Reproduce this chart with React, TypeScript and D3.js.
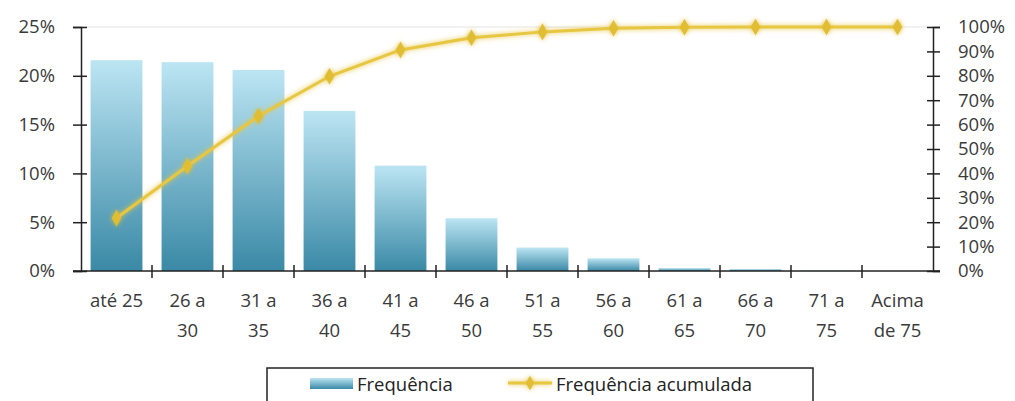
import React, { useEffect, useRef } from 'react';
import * as d3 from 'd3';

const categories = ['até 25', '26 a 30', '31 a 35', '36 a 40', '41 a 45', '46 a 50', '51 a 55', '56 a 60', '61 a 65', '66 a 70', '71 a 75', 'Acima de 75'];
const categoryLines = [['até 25'], ['26 a', '30'], ['31 a', '35'], ['36 a', '40'], ['41 a', '45'], ['46 a', '50'], ['51 a', '55'], ['56 a', '60'], ['61 a', '65'], ['66 a', '70'], ['71 a', '75'], ['Acima', 'de 75']];
const frequencia = [21.6, 21.4, 20.6, 16.4, 10.8, 5.4, 2.4, 1.3, 0.3, 0.2, 0.05, 0];
const acumulada = [21.7, 43.0, 63.5, 79.8, 90.6, 95.6, 98.0, 99.5, 99.9, 100, 100, 100];
const leftTicks = [0, 5, 10, 15, 20, 25];
const rightTicks = [0, 10, 20, 30, 40, 50, 60, 70, 80, 90, 100];

const App: React.FC = () => {
  const svgRef = useRef<SVGSVGElement>(null);

  useEffect(() => {
    if (!svgRef.current) return;
    const svg = d3.select(svgRef.current);
    svg.selectAll('*').remove();

    const width = 1015;
    const height = 401;
    const margin = { top: 27, right: 82, bottom: 130, left: 81 };
    const font = "'Open Sans', 'Noto Sans', sans-serif";
    const fontSize = 18.5;
    const textColor = '#3a3a3a';

    const x = d3.scaleBand()
      .domain(categories)
      .range([margin.left, width - margin.right])
      .paddingInner(0.27)
      .paddingOuter(0.135);

    const yL = d3.scaleLinear().domain([0, 25]).range([height - margin.bottom, margin.top]);
    const yR = d3.scaleLinear().domain([0, 100]).range([height - margin.bottom, margin.top]);

    const defs = svg.append('defs');
    const grad = defs.append('linearGradient')
      .attr('id', 'barGrad').attr('x1', 0).attr('y1', 0).attr('x2', 0).attr('y2', 1);
    grad.append('stop').attr('offset', '0%').attr('stop-color', '#bce5f3');
    grad.append('stop').attr('offset', '100%').attr('stop-color', '#3a89a6');

    const glow = defs.append('filter').attr('id', 'glow').attr('x', '-20%').attr('y', '-50%').attr('width', '140%').attr('height', '200%');
    glow.append('feGaussianBlur').attr('stdDeviation', 2.5).attr('result', 'b');
    const merge = glow.append('feMerge');
    merge.append('feMergeNode').attr('in', 'b');
    merge.append('feMergeNode').attr('in', 'SourceGraphic');

    // top gridline
    svg.append('line')
      .attr('x1', margin.left).attr('x2', width - margin.right)
      .attr('y1', yL(25)).attr('y2', yL(25))
      .attr('stroke', '#e4e4e4').attr('stroke-width', 1);

    // bars
    svg.selectAll('.bar')
      .data(frequencia)
      .enter().append('rect')
      .attr('class', 'bar')
      .attr('x', (_, i) => x(categories[i])!)
      .attr('width', x.bandwidth())
      .attr('y', d => yL(d))
      .attr('height', d => yL(0) - yL(d))
      .attr('fill', 'url(#barGrad)');

    // left axis
    const left = svg.append('g').attr('transform', `translate(${margin.left},0)`)
      .call(d3.axisLeft(yL).tickValues(leftTicks).tickSize(8).tickPadding(18).tickFormat(d => `${d}%`));
    left.select('.domain').attr('stroke', '#222').attr('stroke-width', 1.5);
    left.selectAll('.tick line').attr('stroke', '#222').attr('stroke-width', 1.5).attr('x2', 6).attr('x1', -8);
    left.selectAll('.tick text').attr('font-family', font).attr('font-size', fontSize).attr('fill', textColor);

    // right axis
    const right = svg.append('g').attr('transform', `translate(${width - margin.right},0)`)
      .call(d3.axisRight(yR).tickValues(rightTicks).tickSize(7).tickPadding(18).tickFormat(d => `${d}%`));
    right.select('.domain').attr('stroke', '#222').attr('stroke-width', 1.5);
    right.selectAll('.tick line').attr('stroke', '#222').attr('stroke-width', 1.5).attr('x1', -6);
    right.selectAll('.tick text').attr('font-family', font).attr('font-size', fontSize).attr('fill', textColor);

    // bottom axis
    const bottom = svg.append('g').attr('transform', `translate(0,${height - margin.bottom})`);
    bottom.append('line')
      .attr('x1', margin.left - 8).attr('x2', width - margin.right + 7)
      .attr('stroke', '#222').attr('stroke-width', 1.5);
    const step = x.step();
    d3.range(1, categories.length).forEach(i => {
      const tx = margin.left + i * step;
      bottom.append('line').attr('x1', tx).attr('x2', tx).attr('y1', -6).attr('y2', 7)
        .attr('stroke', '#222').attr('stroke-width', 1.5);
    });
    categories.forEach((c, i) => {
      const cx = x(c)! + x.bandwidth() / 2;
      const t = bottom.append('text')
        .attr('x', cx)
        .attr('y', 36)
        .attr('text-anchor', 'middle')
        .attr('font-family', font).attr('font-size', fontSize).attr('fill', textColor);
      categoryLines[i].forEach((ln, j) => {
        t.append('tspan').attr('x', cx).attr('dy', j === 0 ? 0 : 30).text(ln);
      });
    });

    // cumulative line
    const line = d3.line<number>()
      .x((_, i) => x(categories[i])! + x.bandwidth() / 2)
      .y(d => yR(d));
    const lg = svg.append('g').attr('filter', 'url(#glow)');
    lg.append('path')
      .datum(acumulada)
      .attr('fill', 'none')
      .attr('stroke', '#e7c642')
      .attr('stroke-width', 3)
      .attr('d', line);
    lg.selectAll('.pt')
      .data(acumulada)
      .enter().append('path')
      .attr('class', 'pt')
      .attr('transform', (d, i) => `translate(${x(categories[i])! + x.bandwidth() / 2},${yR(d)})`)
      .attr('d', d3.symbol(d3.symbolDiamond, 80)())
      .attr('fill', '#e0bd33');

    // legend
    const legend = svg.append('g');
    legend.append('rect')
      .attr('x', 267).attr('y', 368).attr('width', 546).attr('height', 50)
      .attr('fill', '#fff').attr('stroke', '#222').attr('stroke-width', 1.5);
    legend.append('rect')
      .attr('x', 310).attr('y', 378).attr('width', 43).attr('height', 11)
      .attr('fill', 'url(#barGrad)');
    legend.append('text')
      .attr('x', 357).attr('y', 391)
      .attr('font-family', font).attr('font-size', fontSize).attr('fill', '#222')
      .text('Frequência');
    const lgl = legend.append('g').attr('filter', 'url(#glow)');
    lgl.append('line')
      .attr('x1', 508).attr('x2', 552).attr('y1', 383).attr('y2', 383)
      .attr('stroke', '#e7c642').attr('stroke-width', 3);
    lgl.append('path')
      .attr('transform', 'translate(530,383)')
      .attr('d', d3.symbol(d3.symbolDiamond, 60)())
      .attr('fill', '#e0bd33');
    legend.append('text')
      .attr('x', 556).attr('y', 391)
      .attr('font-family', font).attr('font-size', fontSize).attr('fill', '#222')
      .text('Frequência acumulada');
  }, []);

  return (
    <svg
      ref={svgRef}
      width={1015}
      height={401}
      style={{ position: 'absolute', left: 0, top: 0, background: '#fff' }}
    />
  );
};

export default App;
